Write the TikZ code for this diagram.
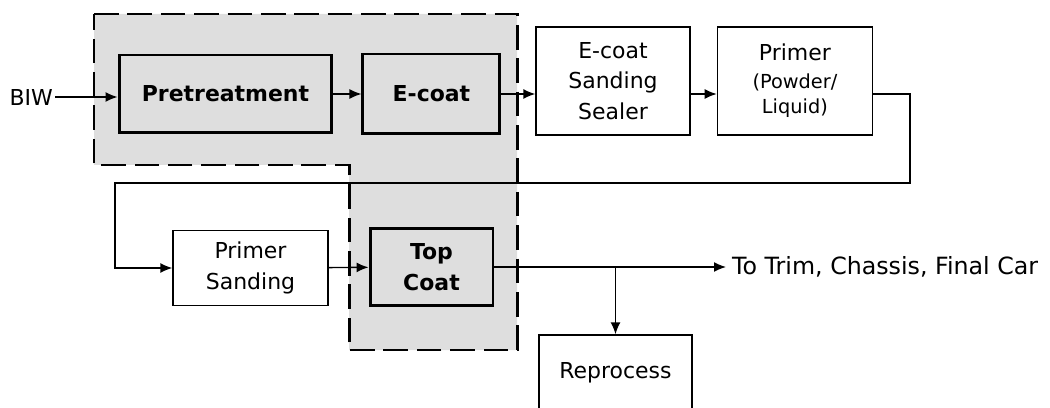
\documentclass[tikz,border=0pt]{standalone}
\usepackage{fontspec}
\setmainfont{DejaVu Sans}
\usetikzlibrary{arrows.meta,positioning,backgrounds}
\definecolor{stipple}{RGB}{222,222,222}

\begin{document}
\begin{tikzpicture}[
  x=0.02cm, y=-0.02cm,
  font=\fontsize{12.5}{17.5}\selectfont,
  box/.style={draw, line width=0.8pt, align=center, inner sep=0pt},
  stage/.style={box, line width=1.7pt, fill=stipple, font=\fontsize{12.5}{17.5}\selectfont\bfseries},
  flow/.style={-{Latex[length=2.4mm,width=2mm]}, line width=0.8pt},
  region/.style={draw, line width=1.7pt, dash pattern=on 14pt off 5pt, fill=stipple},
]
\useasboundingbox (0,0) rectangle (1050,408);

% Nodes
\node[stage, minimum width=4.26cm, minimum height=1.56cm] (pre) at (225.5,94) {Pretreatment};
\node[stage, minimum width=2.74cm, minimum height=1.6cm, right=0.56cm of pre] (ecoat) {E-coat};
\node[box, minimum width=3.08cm, minimum height=2.16cm] (sand) at (613,81) {E-coat\\Sanding\\Sealer};
\node[box, minimum width=3.1cm, minimum height=2.16cm, right=0.52cm of sand] (prim)
  {Primer\\[-2pt]{\fontsize{11}{14}\selectfont(Powder/}\\[-3pt]{\fontsize{11}{14}\selectfont Liquid)}};
\node[box, minimum width=3.1cm, minimum height=1.5cm] (psand) at (250.5,268) {Primer\\Sanding};
\node[stage, minimum width=2.46cm, minimum height=1.54cm] (top) at (431.5,267) {Top\\Coat};
\node[box, minimum width=3.06cm, minimum height=1.52cm] (rep) at (615.5,373) {Reprocess};
\node[anchor=east, inner sep=1pt] (biw) at (55,97) {BIW};
\node[anchor=west, font=\fontsize{13.5}{16}\selectfont] (out) at (726,267) {To Trim, Chassis, Final Car};

% Corners of the return line
\coordinate (turn1) at (910,183);
\coordinate (turn2) at (115,183);
\coordinate (split) at (rep.north |- top.east);

% Shaded region
\begin{scope}[on background layer]
  \draw[region] (94,14) -- (517,14) -- (517,350) -- (349,350) -- (349,165) -- (94,165) -- cycle;
\end{scope}

% Flow
\draw[flow] (biw.east) -- (pre.west |- biw.east);
\draw[flow] (pre) -- (ecoat);
\draw[flow] (ecoat.east) -- (ecoat.east -| sand.west);
\draw[flow] (sand.east |- ecoat.east) -- (ecoat.east -| prim.west);
\draw[flow] (prim.east |- ecoat.east) -| (turn1) -- (turn2) |- (psand.west);
\draw[flow] (psand) -- (top);
\draw[flow] (top.east) -- (out.west);
\draw[flow] (split) -- (rep.north);
\end{tikzpicture}
\end{document}
